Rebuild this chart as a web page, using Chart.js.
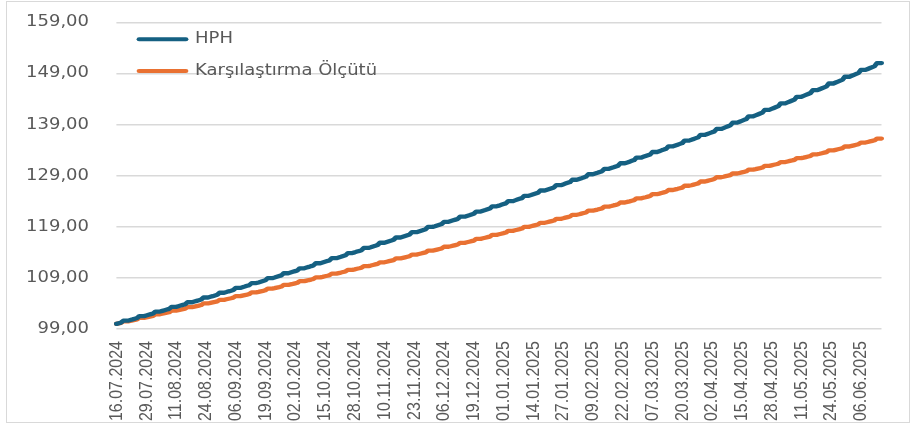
<!DOCTYPE html>
<html>
<head>
<meta charset="utf-8">
<script src="https://cdn.jsdelivr.net/npm/chart.js@4.4.1/dist/chart.umd.min.js"></script>
<style>
  html, body { margin: 0; padding: 0; background: #ffffff; }
  canvas { display: block; }
</style>
</head>
<body>
<canvas id="c" width="916" height="425"></canvas>
<script>
// ---- DATA ----
const seriesNames = ["HPH", "Karşılaştırma Ölçütü"];

const tickLabels = [
  "16.07.2024","29.07.2024","11.08.2024","24.08.2024","06.09.2024","19.09.2024",
  "02.10.2024","15.10.2024","28.10.2024","10.11.2024","23.11.2024","06.12.2024",
  "19.12.2024","01.01.2025","14.01.2025","27.01.2025","09.02.2025","22.02.2025",
  "07.03.2025","20.03.2025","02.04.2025","15.04.2025","28.04.2025","11.05.2025",
  "24.05.2025","06.06.2025"
];

const yTicks = [99, 109, 119, 129, 139, 149, 159];

// daily values, 16.07.2024 (Tue) ... 15.06.2025 (Sun); one line = one week (Mon..Sun)
const hphValues = [
  100.00, 100.13, 100.25, 100.63, 100.63, 100.63,
  100.76, 100.88, 101.01, 101.14, 101.52, 101.52, 101.52,
  101.65, 101.78, 101.91, 102.04, 102.42, 102.42, 102.42,
  102.55, 102.68, 102.81, 102.94, 103.33, 103.33, 103.33,
  103.46, 103.59, 103.72, 103.85, 104.24, 104.24, 104.24,
  104.38, 104.51, 104.64, 104.77, 105.17, 105.17, 105.17,
  105.30, 105.43, 105.57, 105.70, 106.10, 106.10, 106.10,
  106.23, 106.37, 106.50, 106.64, 107.04, 107.04, 107.04,
  107.18, 107.31, 107.45, 107.58, 107.99, 107.99, 107.99,
  108.12, 108.26, 108.40, 108.53, 108.95, 108.95, 108.95,
  109.08, 109.22, 109.36, 109.50, 109.91, 109.91, 109.91,
  110.05, 110.19, 110.33, 110.47, 110.88, 110.88, 110.88,
  111.02, 111.16, 111.31, 111.45, 111.87, 111.87, 111.87,
  112.01, 112.15, 112.29, 112.43, 112.86, 112.86, 112.86,
  113.00, 113.14, 113.29, 113.43, 113.86, 113.86, 113.86,
  114.00, 114.15, 114.29, 114.43, 114.87, 114.87, 114.87,
  115.01, 115.16, 115.30, 115.45, 115.88, 115.88, 115.88,
  116.03, 116.18, 116.32, 116.47, 116.91, 116.91, 116.91,
  117.06, 117.21, 117.36, 117.50, 117.95, 117.95, 117.95,
  118.10, 118.25, 118.40, 118.54, 118.99, 118.99, 118.99,
  119.13, 119.28, 119.42, 119.56, 119.98, 119.98, 119.98,
  120.13, 120.27, 120.41, 120.55, 120.98, 120.98, 120.98,
  121.13, 121.27, 121.42, 121.56, 121.99, 121.99, 121.99,
  122.14, 122.28, 122.43, 122.57, 123.01, 123.01, 123.01,
  123.15, 123.30, 123.45, 123.59, 124.03, 124.03, 124.03,
  124.18, 124.33, 124.48, 124.62, 125.07, 125.07, 125.07,
  125.21, 125.36, 125.51, 125.66, 126.11, 126.11, 126.11,
  126.26, 126.41, 126.56, 126.71, 127.16, 127.16, 127.16,
  127.31, 127.46, 127.61, 127.76, 128.22, 128.22, 128.22,
  128.37, 128.52, 128.68, 128.83, 129.29, 129.29, 129.29,
  129.44, 129.59, 129.75, 129.90, 130.36, 130.36, 130.36,
  130.52, 130.67, 130.83, 130.98, 131.45, 131.45, 131.45,
  131.60, 131.76, 131.92, 132.07, 132.54, 132.54, 132.54,
  132.70, 132.86, 133.02, 133.17, 133.65, 133.65, 133.65,
  133.81, 133.97, 134.12, 134.28, 134.76, 134.76, 134.76,
  134.92, 135.08, 135.24, 135.40, 135.88, 135.88, 135.88,
  136.04, 136.21, 136.37, 136.53, 137.02, 137.02, 137.02,
  137.18, 137.34, 137.50, 137.67, 138.16, 138.16, 138.16,
  138.33, 138.51, 138.69, 138.86, 139.39, 139.39, 139.39,
  139.57, 139.75, 139.93, 140.11, 140.64, 140.64, 140.64,
  140.82, 141.00, 141.18, 141.36, 141.90, 141.90, 141.90,
  142.08, 142.27, 142.45, 142.63, 143.18, 143.18, 143.18,
  143.36, 143.54, 143.72, 143.91, 144.46, 144.46, 144.46,
  144.64, 144.83, 145.01, 145.20, 145.75, 145.75, 145.75,
  145.94, 146.12, 146.31, 146.50, 147.06, 147.06, 147.06,
  147.25, 147.43, 147.62, 147.81, 148.38, 148.38, 148.38,
  148.57, 148.76, 148.95, 149.14, 149.71, 149.71, 149.71,
  149.90, 150.09, 150.28, 150.47, 151.05, 151.05, 151.05
];

const benchmarkValues = [
  100.00, 100.10, 100.20, 100.49, 100.49, 100.49,
  100.59, 100.69, 100.79, 100.89, 101.18, 101.18, 101.18,
  101.28, 101.38, 101.48, 101.58, 101.88, 101.88, 101.88,
  101.98, 102.08, 102.18, 102.28, 102.58, 102.58, 102.58,
  102.68, 102.78, 102.88, 102.98, 103.29, 103.29, 103.29,
  103.39, 103.49, 103.59, 103.69, 104.00, 104.00, 104.00,
  104.10, 104.20, 104.30, 104.41, 104.71, 104.71, 104.71,
  104.82, 104.92, 105.02, 105.13, 105.43, 105.43, 105.43,
  105.54, 105.64, 105.74, 105.85, 106.16, 106.16, 106.16,
  106.26, 106.37, 106.47, 106.58, 106.89, 106.89, 106.89,
  106.99, 107.10, 107.20, 107.31, 107.62, 107.62, 107.62,
  107.73, 107.83, 107.94, 108.05, 108.36, 108.36, 108.36,
  108.47, 108.58, 108.68, 108.79, 109.11, 109.11, 109.11,
  109.21, 109.32, 109.42, 109.53, 109.84, 109.84, 109.84,
  109.95, 110.05, 110.16, 110.26, 110.58, 110.58, 110.58,
  110.68, 110.79, 110.89, 111.00, 111.32, 111.32, 111.32,
  111.42, 111.53, 111.64, 111.74, 112.06, 112.06, 112.06,
  112.17, 112.28, 112.39, 112.49, 112.81, 112.81, 112.81,
  112.92, 113.03, 113.14, 113.25, 113.57, 113.57, 113.57,
  113.68, 113.79, 113.90, 114.00, 114.33, 114.33, 114.33,
  114.44, 114.55, 114.66, 114.77, 115.10, 115.10, 115.10,
  115.21, 115.32, 115.43, 115.54, 115.87, 115.87, 115.87,
  115.98, 116.09, 116.20, 116.31, 116.64, 116.64, 116.64,
  116.76, 116.87, 116.98, 117.09, 117.43, 117.43, 117.43,
  117.54, 117.65, 117.76, 117.88, 118.21, 118.21, 118.21,
  118.33, 118.44, 118.55, 118.67, 119.00, 119.00, 119.00,
  119.12, 119.23, 119.34, 119.45, 119.79, 119.79, 119.79,
  119.90, 120.01, 120.12, 120.23, 120.57, 120.57, 120.57,
  120.68, 120.80, 120.91, 121.02, 121.36, 121.36, 121.36,
  121.47, 121.59, 121.70, 121.81, 122.16, 122.16, 122.16,
  122.27, 122.38, 122.50, 122.61, 122.96, 122.96, 122.96,
  123.07, 123.19, 123.30, 123.42, 123.76, 123.76, 123.76,
  123.88, 123.99, 124.11, 124.22, 124.57, 124.57, 124.57,
  124.69, 124.80, 124.92, 125.04, 125.39, 125.39, 125.39,
  125.50, 125.62, 125.74, 125.86, 126.21, 126.21, 126.21,
  126.33, 126.44, 126.56, 126.68, 127.04, 127.04, 127.04,
  127.15, 127.27, 127.39, 127.51, 127.87, 127.87, 127.87,
  127.99, 128.11, 128.23, 128.35, 128.71, 128.71, 128.71,
  128.81, 128.92, 129.02, 129.13, 129.44, 129.44, 129.44,
  129.55, 129.66, 129.76, 129.87, 130.19, 130.19, 130.19,
  130.29, 130.40, 130.50, 130.61, 130.93, 130.93, 130.93,
  131.04, 131.15, 131.25, 131.36, 131.68, 131.68, 131.68,
  131.79, 131.90, 132.00, 132.11, 132.44, 132.44, 132.44,
  132.54, 132.65, 132.76, 132.87, 133.20, 133.20, 133.20,
  133.30, 133.41, 133.52, 133.63, 133.96, 133.96, 133.96,
  134.07, 134.18, 134.29, 134.40, 134.73, 134.73, 134.73,
  134.84, 134.95, 135.06, 135.17, 135.50, 135.50, 135.50,
  135.61, 135.72, 135.83, 135.94, 136.27, 136.27, 136.27
];

// daily categories (calendar days) starting 16.07.2024
const categories = [];
(function () {
  const pad = n => (n < 10 ? "0" : "") + n;
  for (let i = 0; i < hphValues.length; i++) {
    const d = new Date(Date.UTC(2024, 6, 16 + i));
    categories.push(pad(d.getUTCDate()) + "." + pad(d.getUTCMonth() + 1) + "." + d.getUTCFullYear());
  }
})();
const tickEvery = 13;

// ---- STYLE / LAYOUT ----
const COLORS = ["#156082", "#E97132"];
const TEXT = "#595959";
const STRETCH = 1.2; // horizontal stretch of the original picture
const W = 916, H = 425;
const areaLeft = 116.5, areaRight = 881.5, areaTop = 22.5, xAxisHeight = 96;

const stretchPlugin = {
  id: "stretch",
  beforeDraw(chart) {
    const c = chart.ctx;
    c.save();
    c.fillStyle = "#ffffff";
    c.fillRect(0, 0, W, H);
    c.scale(STRETCH, 1);
  },
  afterDraw(chart) {
    const c = chart.ctx;
    // legend (inside plot area, top-left)
    const items = [
      { y: 39.3, base: 43.3 },
      { y: 71, base: 75 }
    ];
    c.save();
    c.lineCap = "round";
    c.lineWidth = 4;
    c.font = '15px "DejaVu Sans"';
    c.fillStyle = TEXT;
    c.textBaseline = "alphabetic";
    c.textAlign = "left";
    chart.data.datasets.forEach((ds, i) => {
      c.strokeStyle = ds.borderColor;
      c.beginPath();
      c.moveTo(139 / STRETCH, items[i].y);
      c.lineTo(186 / STRETCH, items[i].y);
      c.stroke();
      c.fillText(ds.label, 195 / STRETCH, items[i].base);
    });
    c.restore();
    c.restore();
    // outer border
    c.save();
    c.strokeStyle = "#d9d9d9";
    c.lineWidth = 1;
    c.strokeRect(6.5, 1.5, 903, 421);
    c.restore();
  }
};

new Chart(document.getElementById("c"), {
  type: "line",
  data: {
    labels: categories,
    datasets: [
      {
        label: seriesNames[0], data: hphValues, borderColor: COLORS[0], backgroundColor: COLORS[0],
        borderWidth: 4.3, pointRadius: 0, tension: 0, fill: false,
        borderCapStyle: "round", borderJoinStyle: "round"
      },
      {
        label: seriesNames[1], data: benchmarkValues, borderColor: COLORS[1], backgroundColor: COLORS[1],
        borderWidth: 4.3, pointRadius: 0, tension: 0, fill: false,
        borderCapStyle: "round", borderJoinStyle: "round"
      }
    ]
  },
  options: {
    responsive: false,
    animation: false,
    devicePixelRatio: 1,
    layout: { padding: { top: areaTop, right: W - areaRight / STRETCH, bottom: 0, left: 0 } },
    plugins: { legend: { display: false }, tooltip: { enabled: false } },
    scales: {
      x: {
        type: "category",
        offset: false,
        grid: { display: false, drawTicks: false },
        border: { display: false },
        ticks: {
          autoSkip: false, minRotation: 90, maxRotation: 90, padding: 12,
          color: TEXT, font: { family: '"Liberation Sans", Arial, sans-serif', size: 16 },
          callback: (v, i) => (i % tickEvery === 0 ? tickLabels[i / tickEvery] : null)
        },
        afterFit: s => {
          s.height = xAxisHeight;
          s.paddingLeft = 0; s.paddingRight = 0; s.paddingTop = 0; s.paddingBottom = 0;
        }
      },
      y: {
        min: yTicks[0], max: yTicks[yTicks.length - 1],
        afterBuildTicks: s => { s.ticks = yTicks.map(v => ({ value: v })); },
        grid: { color: "#d9d9d9", lineWidth: 1.5, drawTicks: false },
        border: { display: false },
        ticks: {
          padding: 22.9, color: TEXT,
          font: { family: '"DejaVu Sans", sans-serif', size: 15 },
          callback: v => Number(v).toFixed(2).replace(".", ",")
        },
        afterFit: s => {
          s.width = areaLeft / STRETCH;
          s.paddingLeft = 0; s.paddingRight = 0; s.paddingTop = 0; s.paddingBottom = 0;
        }
      }
    }
  },
  plugins: [stretchPlugin]
});
</script>
</body>
</html>
